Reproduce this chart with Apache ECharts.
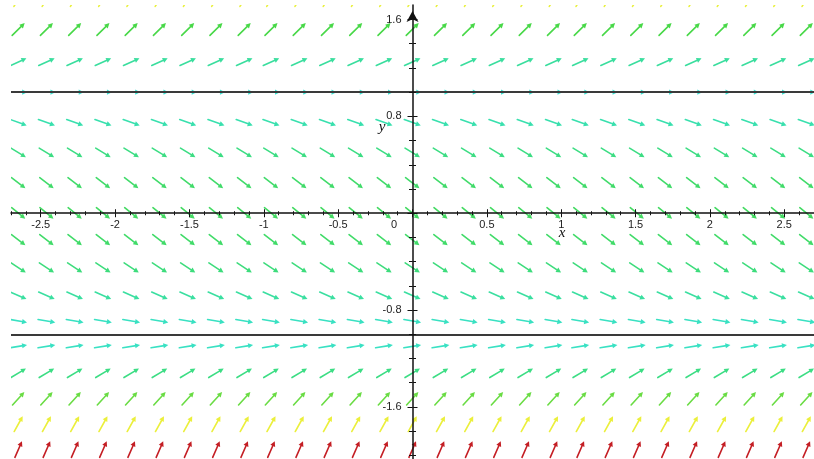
<!DOCTYPE html>
<html>
<head>
<meta charset="utf-8">
<script src="https://cdn.jsdelivr.net/npm/echarts@6/dist/echarts.min.js"></script>
<style>
  html, body { margin: 0; padding: 0; background: #fff; }
  #chart { width: 814px; height: 459px; }
</style>
</head>
<body>
<div id="chart"></div>
<script>
// slope field samples: columns (x), rows (y) and the slope of each row
const columnX = [-2.65, -2.46, -2.27, -2.08, -1.89, -1.70, -1.51, -1.32, -1.13, -0.95, -0.76, -0.57, -0.38, -0.19, 0,
                 0.19, 0.38, 0.57, 0.76, 0.95, 1.13, 1.32, 1.51, 1.70, 1.89, 2.08, 2.27, 2.46, 2.65];
const rowY = [1.77, 1.52, 1.25, 1.0, 0.75, 0.5, 0.25, 0, -0.22, -0.45, -0.68, -0.89, -1.1, -1.32, -1.53, -1.74, -1.95];
const rowSlope = [2.06, 1.2, 0.56, 0, -0.44, -0.75, -0.94, -1.0, -0.95, -0.8, -0.54, -0.22, 0.2, 0.74, 1.34, 2.2, 2.8];
const equilibria = [1, -1];
const xLabels = [-2.5, -2, -1.5, -1, -0.5, 0, 0.5, 1, 1.5, 2, 2.5];
const yLabels = [-1.6, -0.8, 0.8, 1.6];
const slopeColors = ['#3ae2d2', '#38e0b4', '#3ddc7c', '#48d848', '#a8e23c', '#e8f03c', '#eeee3c', '#c41e24'];

// visible window of the plot
const view = { xMin: -2.7, xMax: 2.7, yMin: -2.03, yMax: 1.72 };
const plot = { left: 11, top: 5, width: 803, height: 454 };
// tick axes run on round limits, so their strips spill past the canvas
const tickRange = { xMin: -3, xMax: 3, yMin: -2.4, yMax: 2.4 };
const kx = plot.width / (view.xMax - view.xMin);
const ky = plot.height / (view.yMax - view.yMin);
const x0 = plot.left - view.xMin * kx;   // pixel of x = 0
const y0 = plot.top + view.yMax * ky;    // pixel of y = 0
const xStrip = { left: plot.left + (tickRange.xMin - view.xMin) * kx, width: (tickRange.xMax - tickRange.xMin) * kx };
const yStrip = { top: plot.top + (view.yMax - tickRange.yMax) * ky, height: (tickRange.yMax - tickRange.yMin) * ky };

const ARROW_LEN = 17.5;
const HEAD_LEN = 5;
const HEAD_W = 2.6;
const labelFont = 'Liberation Sans, Arial, Helvetica, sans-serif';
const nameFont = 'Liberation Serif, Times New Roman, serif';
const ink = '#111';

const field = [];
rowY.forEach((y, i) => {
    columnX.forEach(x => {
        field.push([x, y, rowSlope[i], Math.abs(rowSlope[i])]);
    });
});

const renderArrow = (params, api) => {
    const c = api.coord([api.value(0), api.value(1)]);
    const s = api.size([1, 1]);
    let dx = s[0];
    let dy = -api.value(2) * s[1];
    const n = Math.sqrt(dx * dx + dy * dy);
    dx /= n; dy /= n;
    const h = ARROW_LEN / 2;
    const tx = c[0] + dx * h, ty = c[1] + dy * h;
    const bx = tx - dx * HEAD_LEN, by = ty - dy * HEAD_LEN;
    const color = api.visual('color');
    return {
        type: 'group',
        children: [
            {
                type: 'line',
                shape: { x1: c[0] - dx * h, y1: c[1] - dy * h, x2: bx + dx, y2: by + dy },
                style: { stroke: color, lineWidth: 1.6, lineCap: 'round' }
            },
            {
                type: 'polygon',
                shape: { points: [[tx, ty], [bx - dy * HEAD_W, by + dx * HEAD_W], [bx + dy * HEAD_W, by - dx * HEAD_W]] },
                style: { fill: color }
            }
        ]
    };
};

const hidden = { show: false };
const near = (a, b) => Math.abs(a - b) < 1e-6;
const fmt = v => String(+v.toFixed(2));
const tickStyle = { color: ink, width: 1 };

// a thin strip grid whose edge sits on the x = 0 or y = 0 line, carrying ticks on that edge
const stripAxis = (gridIndex, kind, position, withLabels) => {
    const isX = kind === 'x';
    const axis = {
        gridIndex, type: 'value', position, z: 10,
        min: isX ? tickRange.xMin : tickRange.yMin,
        max: isX ? tickRange.xMax : tickRange.yMax,
        interval: isX ? 0.5 : 0.8,
        axisLine: { show: false, onZero: false },
        axisTick: { show: true, length: isX ? 4 : 5, lineStyle: tickStyle },
        minorTick: { show: true, splitNumber: isX ? 5 : 4, length: isX ? 2 : 3.5, lineStyle: tickStyle },
        splitLine: hidden,
        axisLabel: hidden
    };
    if (withLabels) {
        axis.axisLabel = isX ? {
            show: true, margin: 6, color: '#222', fontSize: 11, fontFamily: labelFont, hideOverlap: false,
            formatter: v => {
                if (!xLabels.some(l => near(l, v))) return '';
                return near(v, 0) ? '{z|0}' : fmt(v);
            },
            rich: { z: { padding: [0, 37, 0, 0], color: '#222', fontSize: 11, fontFamily: labelFont } }
        } : {
            show: true, margin: 11, color: '#222', fontSize: 11, fontFamily: labelFont, hideOverlap: false,
            formatter: v => yLabels.some(l => near(l, v)) ? fmt(v) : ''
        };
    }
    return axis;
};
const blankAxis = gridIndex => ({
    gridIndex, type: 'value', min: 0, max: 1, show: false, splitLine: hidden
});

const chart = echarts.init(document.getElementById('chart'), null, { renderer: 'canvas' });
chart.setOption({
    animation: false,
    backgroundColor: '#fff',
    grid: [
        { left: plot.left, top: plot.top, width: plot.width, height: plot.height, outerBoundsMode: 'none' },
        // x ticks + labels below the x axis, x ticks above it
        { left: xStrip.left, width: xStrip.width, top: y0 - 10, height: 10, outerBoundsMode: 'none' },
        { left: xStrip.left, width: xStrip.width, top: y0, height: 10, outerBoundsMode: 'none' },
        // y ticks + labels left of the y axis, y ticks right of it
        { left: x0, width: 10, top: yStrip.top, height: yStrip.height, outerBoundsMode: 'none' },
        { left: x0 - 10, width: 10, top: yStrip.top, height: yStrip.height, outerBoundsMode: 'none' }
    ],
    xAxis: [
        {
            gridIndex: 0, type: 'value', min: view.xMin, max: view.xMax, z: 10,
            axisLine: { show: true, onZero: true, lineStyle: { color: ink, width: 1.5 } },
            axisTick: hidden, axisLabel: hidden, splitLine: hidden,
            name: 'x', nameLocation: 'end', nameGap: -252,
            nameTextStyle: {
                fontFamily: nameFont, fontStyle: 'italic', fontSize: 15,
                color: ink, align: 'center', verticalAlign: 'top', padding: [12, 0, 0, 0]
            }
        },
        stripAxis(1, 'x', 'bottom', true),
        stripAxis(2, 'x', 'top', false),
        blankAxis(3),
        blankAxis(4)
    ],
    yAxis: [
        {
            gridIndex: 0, type: 'value', min: view.yMin, max: view.yMax, z: 10,
            axisLine: {
                show: true, onZero: true, lineStyle: { color: ink, width: 1.5 },
                symbol: ['none', 'arrow'], symbolSize: [9, 11], symbolOffset: [0, -6]
            },
            axisTick: hidden, axisLabel: hidden, splitLine: hidden,
            name: 'y', nameLocation: 'end', nameGap: -122,
            nameTextStyle: {
                fontFamily: nameFont, fontStyle: 'italic', fontSize: 15,
                color: ink, align: 'right', verticalAlign: 'middle', padding: [0, 27, 0, 0]
            }
        },
        blankAxis(1),
        blankAxis(2),
        stripAxis(3, 'y', 'left', true),
        stripAxis(4, 'y', 'right', false)
    ],
    visualMap: {
        type: 'continuous', show: false, seriesIndex: 0, dimension: 3,
        min: 0, max: 2.8, inRange: { color: slopeColors }
    },
    series: [
        {
            type: 'custom',
            xAxisIndex: 0, yAxisIndex: 0,
            clip: true,
            z: 2,
            silent: true,
            renderItem: renderArrow,
            encode: { x: 0, y: 1 },
            data: field,
            markLine: {
                silent: true,
                symbol: ['none', 'none'],
                label: { show: false },
                lineStyle: { color: '#3a3a3a', width: 1.8, type: 'solid' },
                data: equilibria.map(v => ({ yAxis: v }))
            }
        }
    ]
});
</script>
</body>
</html>
